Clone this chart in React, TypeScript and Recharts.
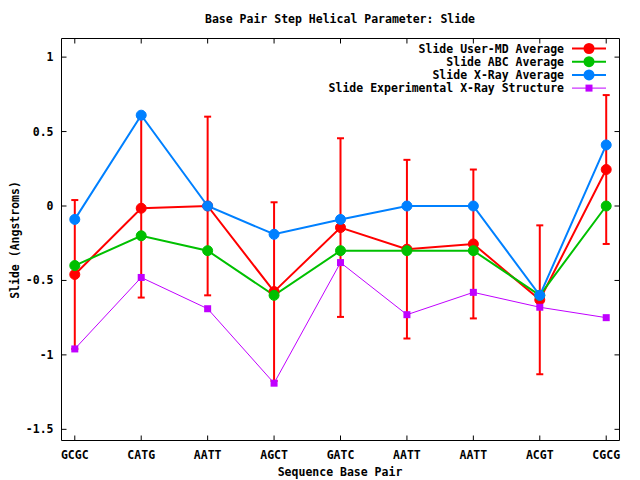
import React from 'react';
import { ComposedChart, Line, XAxis, YAxis, ErrorBar, Legend, Label } from 'recharts';

// base pair steps along the sequence
const steps = ['GCGC', 'CATG', 'AATT', 'AGCT', 'GATC', 'AATT', 'AATT', 'ACGT', 'CGCG'];

// slide values (Angstroms)
const userMdAvg = [-0.46, -0.015, 0.0, -0.575, -0.145, -0.29, -0.255, -0.63, 0.245];
const userMdErr = [0.5, 0.6, 0.6, 0.6, 0.6, 0.6, 0.5, 0.5, 0.5];
const abcAvg = [-0.4, -0.2, -0.3, -0.6, -0.3, -0.3, -0.3, -0.6, 0.0];
const xrayAvg = [-0.09, 0.61, 0.0, -0.19, -0.09, 0.0, 0.0, -0.6, 0.41];
const xrayExpt = [-0.96, -0.48, -0.69, -1.19, -0.38, -0.73, -0.58, -0.68, -0.75];

const yTicks = [-1.5, -1, -0.5, 0, 0.5, 1];
const xTicks = steps.map((_, i) => i);

const data = steps.map((s, i) => ({
  x: i,
  step: s,
  md: userMdAvg[i],
  mdErr: userMdErr[i],
  abc: abcAvg[i],
  xray: xrayAvg[i],
  expt: xrayExpt[i],
}));

const RED = '#ff0000';
const GREEN = '#00c000';
const BLUE = '#0080ff';
const PURPLE = '#c000ff';

const font = {
  fontFamily: "'DejaVu Sans Mono', monospace",
  fontWeight: 'bold' as const,
  fontSize: 11.5,
  fill: '#000',
};

const legendItems = [
  { name: 'Slide User-MD Average', color: RED, square: false, w: 2 },
  { name: 'Slide ABC Average', color: GREEN, square: false, w: 2 },
  { name: 'Slide X-Ray Average', color: BLUE, square: false, w: 2 },
  { name: 'Slide Experimental X-Ray Structure', color: PURPLE, square: true, w: 1 },
];

const BottomTick = (props: any) => {
  const { x, y, payload } = props;
  return (
    <g>
      <line x1={x} y1={y} x2={x} y2={y - 5} stroke="#000" />
      <text x={x} y={y + 18.5} textAnchor="middle" style={font}>
        {steps[payload.value]}
      </text>
    </g>
  );
};

const TopTick = (props: any) => {
  const { x, y } = props;
  return <line x1={x} y1={y} x2={x} y2={y + 5} stroke="#000" />;
};

const LeftTick = (props: any) => {
  const { x, y, payload } = props;
  return (
    <g>
      <line x1={x} y1={y} x2={x + 5} y2={y} stroke="#000" />
      <text x={x - 8} y={y + 4} textAnchor="end" style={font}>
        {String(payload.value)}
      </text>
    </g>
  );
};

const RightTick = (props: any) => {
  const { x, y } = props;
  return <line x1={x} y1={y} x2={x - 5} y2={y} stroke="#000" />;
};

const squareDot = (props: any) => {
  const { cx, cy, index } = props;
  return <rect key={'sq' + index} x={cx - 3.5} y={cy - 3.5} width={7} height={7} fill={PURPLE} />;
};

const renderLegend = () => (
  <svg width={300} height={60}>
    {legendItems.map((it, i) => {
      const cy = 8.5 + i * 13.2;
      return (
        <g key={it.name}>
          <text x={244} y={cy + 4} textAnchor="end" style={font}>
            {it.name}
          </text>
          <line x1={252} y1={cy} x2={286} y2={cy} stroke={it.color} strokeWidth={it.w} />
          {it.square ? (
            <rect x={265.5} y={cy - 3.5} width={7} height={7} fill={it.color} />
          ) : (
            <circle cx={269} cy={cy} r={5.5} fill={it.color} />
          )}
        </g>
      );
    })}
  </svg>
);

const App = () => {
  return (
    <div style={{ position: 'absolute', left: 0, top: 0, width: 640, height: 480, background: '#fff' }}>
      <svg width={640} height={40} style={{ position: 'absolute', left: 0, top: 0 }}>
        <text x={340} y={23} textAnchor="middle" style={font}>
          Base Pair Step Helical Parameter: Slide
        </text>
      </svg>
      <ComposedChart
        width={640}
        height={480}
        data={data}
        margin={{ top: 0, right: 0, bottom: 0, left: 0 }}
        style={{ position: 'absolute', left: 0, top: 0 }}
      >
        <XAxis
          xAxisId="b"
          dataKey="x"
          type="number"
          orientation="bottom"
          domain={[-0.2, 8.2]}
          ticks={xTicks}
          interval={0}
          height={39.5}
          tickSize={0}
          tickMargin={0}
          tickLine={false}
          tick={<BottomTick />}
          axisLine={{ stroke: '#000' }}
          allowDataOverflow
        >
          <Label
            content={() => (
              <text x={340} y={475.5} textAnchor="middle" style={font}>
                Sequence Base Pair
              </text>
            )}
          />
        </XAxis>
        <XAxis
          xAxisId="t"
          dataKey="x"
          type="number"
          orientation="top"
          domain={[-0.2, 8.2]}
          ticks={xTicks}
          interval={0}
          height={38.5}
          tickSize={0}
          tickMargin={0}
          tickLine={false}
          tick={<TopTick />}
          axisLine={{ stroke: '#000' }}
          allowDataOverflow
        />
        <YAxis
          yAxisId="l"
          type="number"
          orientation="left"
          domain={[-1.575, 1.125]}
          ticks={yTicks}
          interval={0}
          width={61.5}
          tickSize={0}
          tickMargin={0}
          tickLine={false}
          tick={<LeftTick />}
          axisLine={{ stroke: '#000' }}
          allowDataOverflow
        >
          <Label
            content={() => (
              <text x={19} y={240} textAnchor="middle" transform="rotate(-90, 19, 240)" style={font}>
                Slide (Angstroms)
              </text>
            )}
          />
        </YAxis>
        <YAxis
          yAxisId="r"
          type="number"
          orientation="right"
          domain={[-1.575, 1.125]}
          ticks={yTicks}
          interval={0}
          width={20.5}
          tickSize={0}
          tickMargin={0}
          tickLine={false}
          tick={<RightTick />}
          axisLine={{ stroke: '#000' }}
          allowDataOverflow
        />
        <Legend
          layout="vertical"
          align="center"
          verticalAlign="middle"
          content={renderLegend}
          wrapperStyle={{ position: 'absolute', left: 320, top: 40, width: 300, height: 60 }}
        />
        <Line
          xAxisId="b"
          yAxisId="l"
          dataKey="md"
          name="Slide User-MD Average"
          stroke={RED}
          strokeWidth={2}
          dot={{ r: 5, fill: RED, stroke: RED, strokeWidth: 1 }}
          activeDot={false}
          isAnimationActive={false}
        >
          <ErrorBar dataKey="mdErr" direction="y" width={3.5} stroke={RED} strokeWidth={2} isAnimationActive={false} />
        </Line>
        <Line
          xAxisId="b"
          yAxisId="l"
          dataKey="abc"
          name="Slide ABC Average"
          stroke={GREEN}
          strokeWidth={2}
          dot={{ r: 5, fill: GREEN, stroke: GREEN, strokeWidth: 1 }}
          activeDot={false}
          isAnimationActive={false}
        />
        <Line
          xAxisId="b"
          yAxisId="l"
          dataKey="xray"
          name="Slide X-Ray Average"
          stroke={BLUE}
          strokeWidth={2}
          dot={{ r: 5, fill: BLUE, stroke: BLUE, strokeWidth: 1 }}
          activeDot={false}
          isAnimationActive={false}
        />
        <Line
          xAxisId="b"
          yAxisId="l"
          dataKey="expt"
          name="Slide Experimental X-Ray Structure"
          stroke={PURPLE}
          strokeWidth={1}
          dot={squareDot}
          activeDot={false}
          isAnimationActive={false}
        />
      </ComposedChart>
    </div>
  );
};

export default App;
